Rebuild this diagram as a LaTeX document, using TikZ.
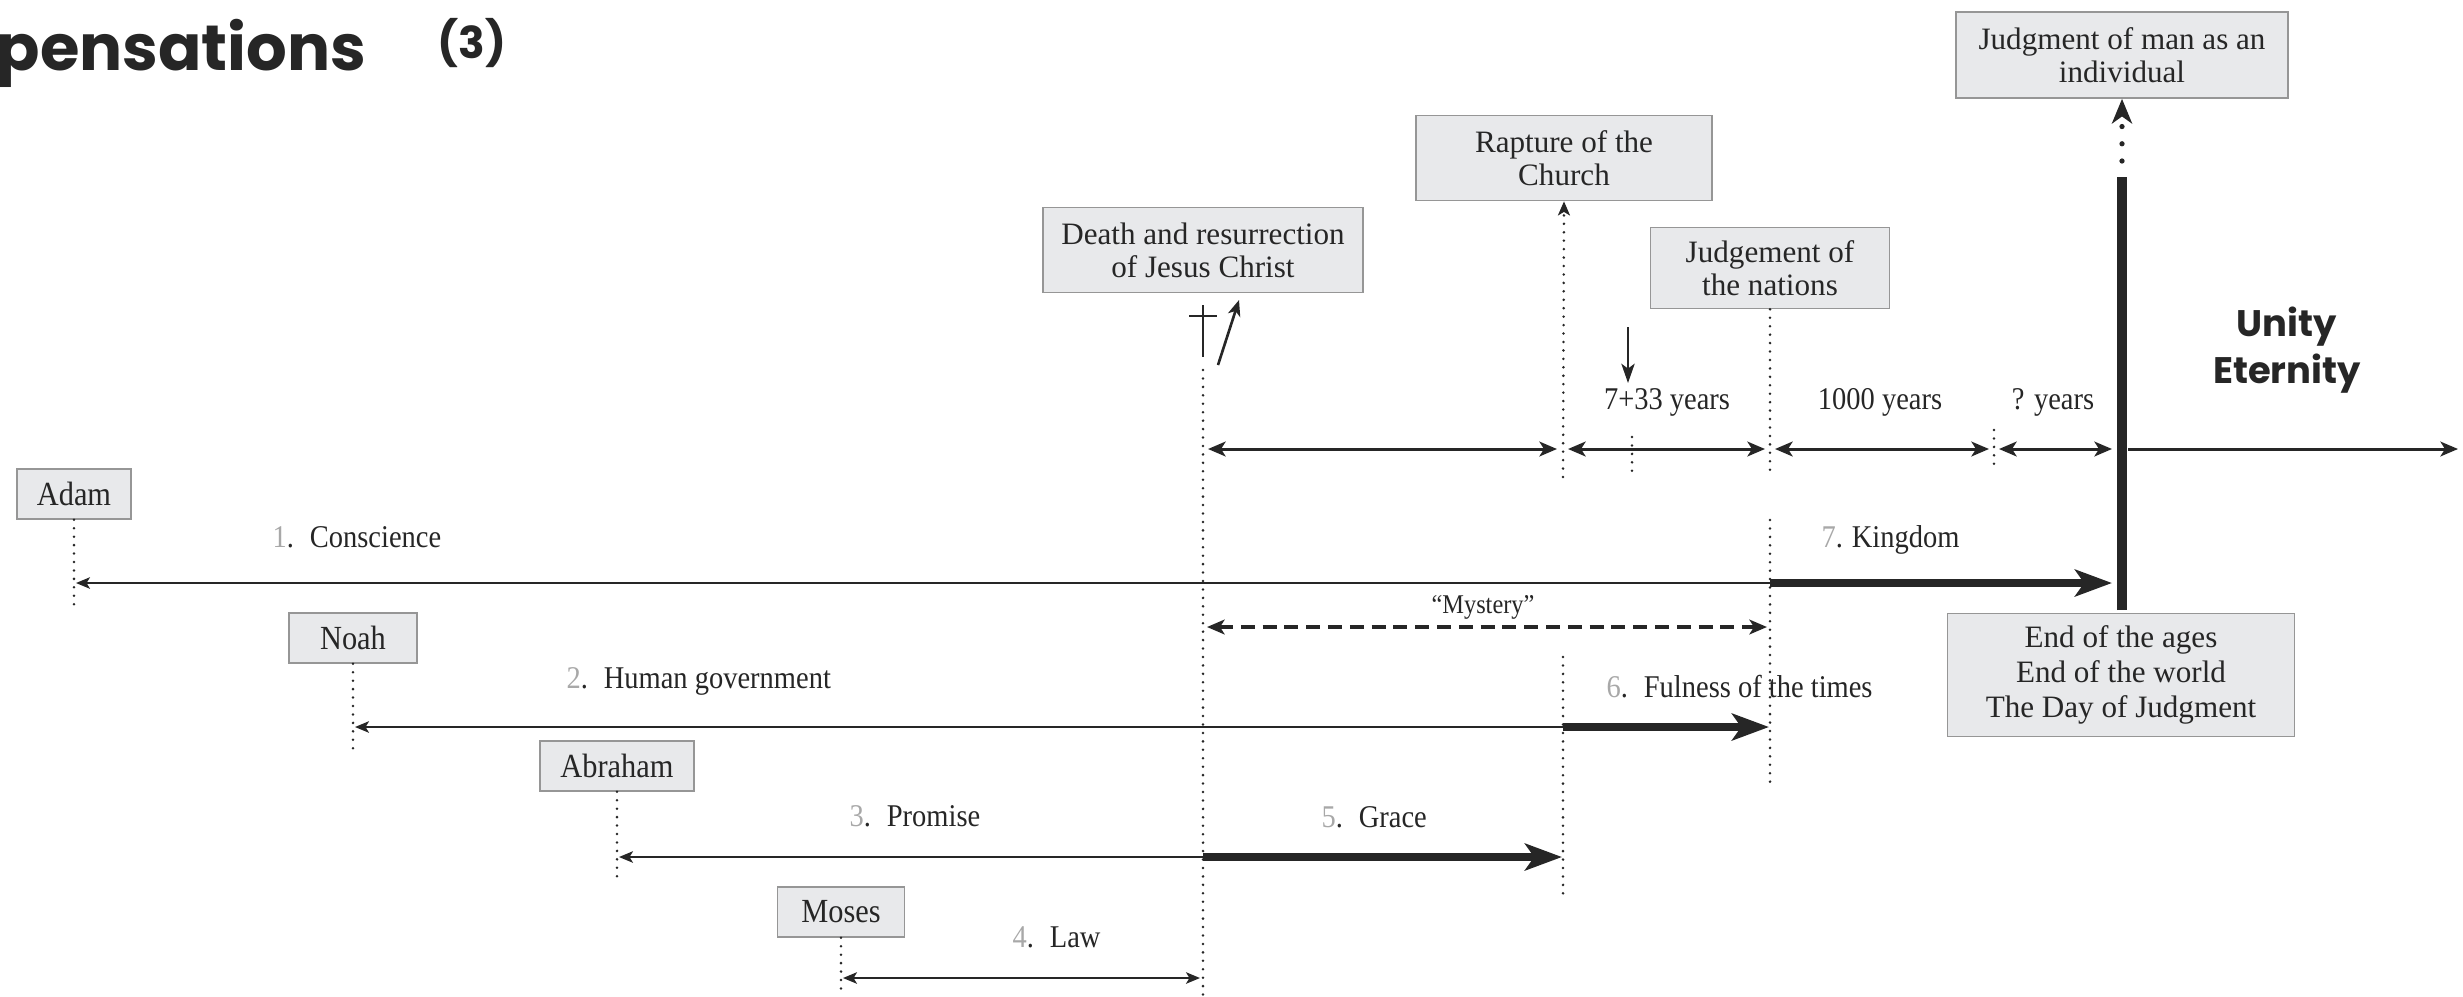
\documentclass[tikz,border=0pt]{standalone}
\usepackage{fontspec}
\setmainfont{Liberation Serif}
\newfontfamily\condf[FakeStretch=0.9]{Liberation Serif}
\newfontfamily\comicf{Poppins}
\usetikzlibrary{arrows.meta}
\definecolor{boxfill}{HTML}{E8E9EB}
\definecolor{boxline}{HTML}{969696}
\definecolor{ink}{HTML}{262626}
\definecolor{numgray}{HTML}{A8A8A8}
\newcommand{\dnum}[1]{\textcolor{numgray}{#1}.\hspace{4.5pt}}
\tikzset{
  AxTip/.tip={Stealth[length=5pt,width=4.2pt,inset=1.3pt]},
  ThinTip/.tip={Stealth[length=4pt,width=3.3pt,inset=1pt]},
  BigTip/.tip={Stealth[length=10.5pt,width=7.6pt,inset=2.6pt]},
}
\begin{document}
\begin{tikzpicture}[x=0.01cm,y=-0.01cm,
  gbox/.style={draw=boxline, fill=boxfill, line width=0.45pt, inner sep=0pt, align=center, text=ink,
    font=\fontsize{8.85}{9.4}\selectfont},
  pbox/.style={gbox, font=\condf\fontsize{9.6}{10}\selectfont, minimum height=0.5cm},
  lab/.style={text=ink, inner sep=0pt, anchor=base west, font=\condf\fontsize{9}{10}\selectfont},
  clab/.style={lab, anchor=base},
  dotl/.style={draw=ink, line width=0.8pt, line cap=round, dash pattern=on 0pt off 2.4pt},
  axarr/.style={draw=ink, line width=0.85pt, {AxTip}-{AxTip}},
  thinarr/.style={draw=ink, line width=0.45pt, -{ThinTip}},
  lawarr/.style={draw=ink, line width=0.45pt, {ThinTip}-{ThinTip}},
  bigarr/.style={draw=ink, line width=2.3pt, -{BigTip}},
  mysarr/.style={draw=ink, line width=0.9pt, dash pattern=on 4pt off 2.2pt, {AxTip}-{AxTip}},
  comic/.style={text=ink, inner sep=0pt, anchor=base, font=\comicf\bfseries\fontsize{10.5}{12}\selectfont}
]
\useasboundingbox (0,0) rectangle (2463,996);

% ---------- title ----------
\node[text=ink, inner sep=0pt, anchor=base west, font=\comicf\bfseries\fontsize{18.2}{20}\selectfont] (title) at (-4,70) {pensations};
\node[text=ink, inner sep=0pt, anchor=base west, font=\comicf\bfseries\fontsize{12.5}{14}\selectfont] (part) at (437,58) {(3)};

% ---------- event boxes ----------
\node[gbox, minimum width=3.20cm, minimum height=0.85cm] (death) at (1203,250) {Death and resurrection\\of Jesus Christ};
\node[gbox, minimum width=2.96cm, minimum height=0.85cm] (rapt) at (1564,158) {Rapture of the\\Church};
\node[gbox, minimum width=2.39cm, minimum height=0.81cm] (nat) at (1770,268) {Judgement of\\the nations};
\node[gbox, minimum width=3.32cm, minimum height=0.86cm] (judg) at (2122,55) {Judgment of man as an\\individual};
\node[gbox, minimum width=3.47cm, minimum height=1.23cm, font=\fontsize{8.85}{9.9}\selectfont] (endb) at (2121,675) {End of the ages\\End of the world\\The Day of Judgment};

% ---------- person boxes ----------
\node[pbox, minimum width=1.14cm] (adam) at (74,494) {Adam};
\node[pbox, minimum width=1.28cm] (noah) at (353,638) {Noah};
\node[pbox, minimum width=1.54cm] (abr) at (617,766) {Abraham};
\node[pbox, minimum width=1.27cm] (mos) at (841,912) {Moses};

% ---------- coordinates ----------
\coordinate (adamE) at (74,609);
\coordinate (noahE) at (353,750);
\coordinate (abrE) at (617,877);
\coordinate (mosE) at (841,996);
\coordinate (chrT) at (1203,370);
\coordinate (chrB) at (1203,996);
\coordinate (raptA) at (1563,477);
\coordinate (raptB) at (1563,657);
\coordinate (raptC) at (1563,897);
\coordinate (natA) at (1770,477);
\coordinate (natB) at (1770,520);
\coordinate (natC) at (1770,790);
\coordinate (smA) at (1632,437);
\coordinate (smB) at (1632,477);
\coordinate (qA) at (1994,430);
\coordinate (qB) at (1994,470);

\coordinate (a1) at (1208,449);
\coordinate (a2) at (1557,449);
\coordinate (a3) at (1568,449);
\coordinate (a4) at (1765,449);
\coordinate (a5) at (1775,449);
\coordinate (a6) at (1989,449);
\coordinate (a7) at (1999,449);
\coordinate (a8) at (2112,449);
\coordinate (a9) at (2128,449);
\coordinate (a10) at (2458,449);

\coordinate (r1L) at (76,583);
\coordinate (r1M) at (1770,583);
\coordinate (r1R) at (2112,583);
\coordinate (r2L) at (355,727);
\coordinate (r2M) at (1563,727);
\coordinate (r2R) at (1769,727);
\coordinate (r3L) at (619,857);
\coordinate (r3M) at (1203,857);
\coordinate (r3R) at (1562,857);
\coordinate (r4L) at (843,978);
\coordinate (r4R) at (1200,978);
\coordinate (mL) at (1207,627);
\coordinate (mR) at (1767,627);

\coordinate (vBot) at (2122,610);
\coordinate (vTop) at (2122,177);
\coordinate (vDot) at (2122,161);

\coordinate (cr0) at (1203,305);
\coordinate (cr1) at (1203,357);
\coordinate (cr2) at (1189,316);
\coordinate (cr3) at (1217,316);
\coordinate (res0) at (1218,365);
\coordinate (res1) at (1239,300);
\coordinate (dn0) at (1628,327);
\coordinate (dn1) at (1628,383);

% ---------- dotted verticals ----------
\draw[dotl] (adam.south) -- (adamE);
\draw[dotl] (noah.south) -- (noahE);
\draw[dotl] (abr.south) -- (abrE);
\draw[dotl] (mos.south) -- (mosE);
\draw[dotl] (chrT) -- (chrB);
\draw[dotl, -{Stealth[length=4pt,width=3.4pt,inset=1pt]}] (raptA) -- (rapt.south);
\draw[dotl] (raptB) -- (raptC);
\draw[dotl] (nat.south) -- (natA);
\draw[dotl] (natB) -- (natC);
\draw[dotl] (smA) -- (smB);
\draw[dotl] (qA) -- (qB);

% ---------- cross and resurrection ----------
\draw[draw=ink, line width=0.45pt] (cr0) -- (cr1);
\draw[draw=ink, line width=0.45pt] (cr2) -- (cr3);
\draw[draw=ink, line width=0.75pt, -{Stealth[length=4.5pt,width=3.6pt,inset=1.2pt]}] (res0) -- (res1);
\draw[draw=ink, line width=0.55pt, -{Stealth[length=5.5pt,width=3.8pt,inset=1.4pt]}] (dn0) -- (dn1);

% ---------- time axis ----------
\draw[axarr] (a1) -- (a2);
\draw[axarr] (a3) -- (a4);
\draw[axarr] (a5) -- (a6);
\draw[axarr] (a7) -- (a8);
\draw[draw=ink, line width=0.85pt, -{AxTip}] (a9) -- (a10);

% ---------- dispensations ----------
\draw[thinarr] (r1M) -- (r1L);
\draw[bigarr] (r1M) -- (r1R);
\draw[thinarr] (r2M) -- (r2L);
\draw[bigarr] (r2M) -- (r2R);
\draw[thinarr] (r3M) -- (r3L);
\draw[bigarr] (r3M) -- (r3R);
\draw[lawarr] (r4L) -- (r4R);
\draw[mysarr] (mL) -- (mR);

% ---------- end of ages vertical ----------
\draw[draw=ink, line width=2.85pt] (vBot) -- (vTop);
\draw[draw=ink, line width=1.5pt, line cap=round, dash pattern=on 0pt off 4.9pt,
      -{Stealth[length=7pt,width=5.7pt,inset=2pt]}] (vDot) -- (judg.south);

% ---------- labels ----------
\node[lab] (l1) at (272,547) {\dnum{1}Conscience};
\node[lab] (l2) at (566,688) {\dnum{2}Human government};
\node[lab] (l3) at (849,826) {\dnum{3}Promise};
\node[lab] (l4) at (1012,947) {\dnum{4}Law};
\node[lab] (l5) at (1321,827) {\dnum{5}Grace};
\node[lab] (l6) at (1606,697) {\dnum{6}Fulness of the times};
\node[lab] (l7) at (1821,547) {\textcolor{numgray}{7}.\hspace{2.5pt}Kingdom};
\node[clab, font=\condf\fontsize{7.7}{9}\selectfont] (lm) at (1483,613) {“Mystery”};
\node[clab] (y1) at (1667,409) {7+33 years};
\node[clab] (y2) at (1880,409) {1000 years};
\node[clab] (y3) at (2053,409) {? years};

\node[comic] (unity) at (2287,336) {Unity};
\node[comic] (etern) at (2287,383) {Eternity};
\end{tikzpicture}
\end{document}
